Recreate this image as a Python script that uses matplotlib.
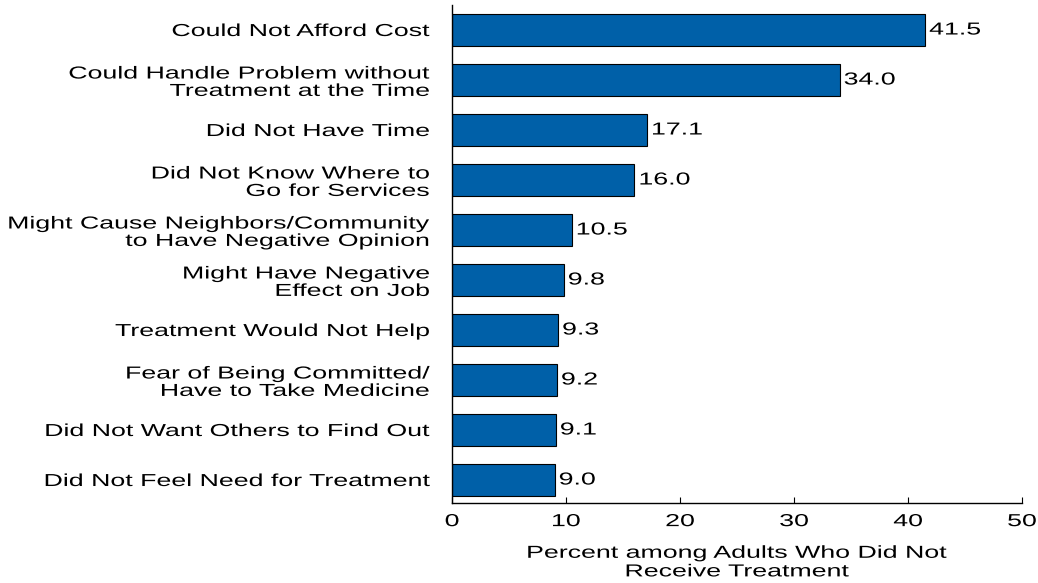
import matplotlib.pyplot as plt
from matplotlib.patheffects import AbstractPathEffect
from matplotlib.transforms import Affine2D

reasons = [
    "Could Not Afford Cost",
    "Could Handle Problem without\nTreatment at the Time",
    "Did Not Have Time",
    "Did Not Know Where to\nGo for Services",
    "Might Cause Neighbors/Community\nto Have Negative Opinion",
    "Might Have Negative\nEffect on Job",
    "Treatment Would Not Help",
    "Fear of Being Committed/\nHave to Take Medicine",
    "Did Not Want Others to Find Out",
    "Did Not Feel Need for Treatment",
]
percents = [41.5, 34.0, 17.1, 16.0, 10.5, 9.8, 9.3, 9.2, 9.1, 9.0]
x_ticks = [0, 10, 20, 30, 40, 50]


class Widen(AbstractPathEffect):
    # stretch text sideways, the original uses a wide old-style Arial
    def __init__(self, sx, anchor="left"):
        super().__init__()
        self.sx = sx
        self.anchor = anchor

    def draw_path(self, renderer, gc, tpath, affine, rgbFace=None):
        ext = tpath.get_extents()
        if self.anchor == "right":
            cx = ext.x1
        elif self.anchor == "center":
            cx = (ext.x0 + ext.x1) / 2
        else:
            cx = 0
        t = Affine2D().translate(-cx, 0).scale(self.sx, 1).translate(cx, 0) + affine
        renderer.draw_path(gc, tpath, t, rgbFace)


SX = 1.54
fs = 12.5
plt.rcParams['font.family'] = ['Liberation Sans', 'DejaVu Sans']

fig = plt.figure(figsize=(10.38, 5.83), dpi=100)
ax = fig.add_axes([0.4355, 0.1372, 0.5491, 0.8542])

pos = list(range(len(reasons)))
ax.barh(pos, percents, height=0.64, color='#0060a8', edgecolor='black', linewidth=0.8)

for p, v in zip(pos, percents):
    ax.text(v + 0.35, p, f"{v:.1f}", va='center', ha='left', fontsize=fs,
            path_effects=[Widen(SX, "left")])

ax.set_ylim(9.46, -0.5)
ax.set_xlim(0, 50)
ax.set_yticks(pos)
ax.set_yticklabels(reasons, fontsize=fs)
for lab in ax.get_yticklabels():
    lab.set_path_effects([Widen(SX, "right")])
ax.tick_params(axis='y', length=0, pad=16)

ax.set_xticks(x_ticks)
ax.set_xticklabels([str(t) for t in x_ticks], fontsize=fs)
for lab in ax.get_xticklabels():
    lab.set_path_effects([Widen(SX, "center")])
ax.tick_params(axis='x', direction='in', length=4, pad=8)

ax.set_xlabel("Percent among Adults Who Did Not\nReceive Treatment", fontsize=fs,
              labelpad=12, linespacing=1.3, path_effects=[Widen(SX, "center")])

for s in ['top', 'right']:
    ax.spines[s].set_visible(False)
for s in ['left', 'bottom']:
    ax.spines[s].set_linewidth(1.0)

fig.savefig("out.png", dpi=100)
